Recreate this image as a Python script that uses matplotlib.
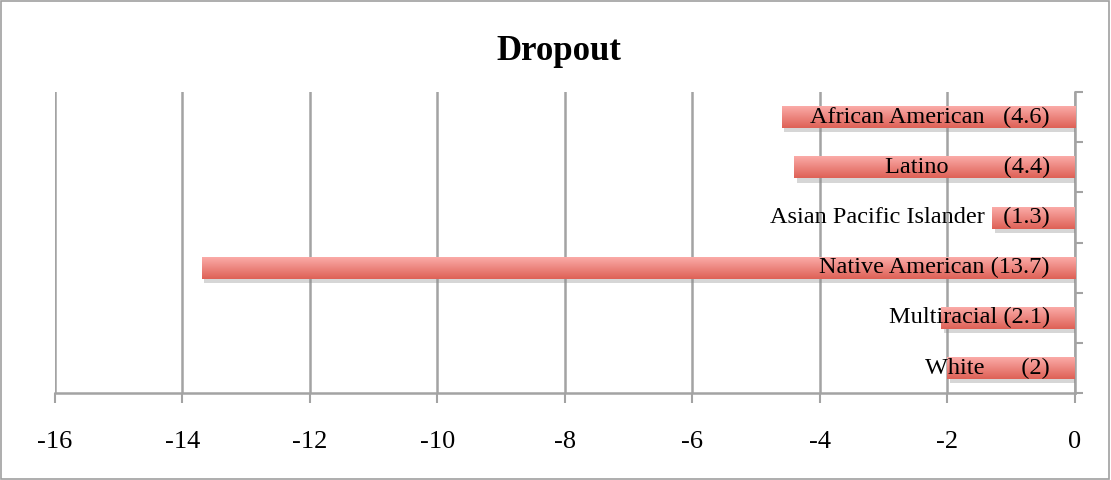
import matplotlib
matplotlib.use("Agg")
import matplotlib.pyplot as plt
import matplotlib.patheffects as pe
from matplotlib.patches import Rectangle
from matplotlib.ticker import FixedLocator
import numpy as np

# data
groups = ['African American', 'Latino', 'Asian Pacific Islander',
          'Native American', 'Multiracial', 'White']
dropout = [-4.6, -4.4, -1.3, -13.7, -2.1, -2.0]
bar_labels = ['African American   (4.6)', 'Latino         (4.4)',
              'Asian Pacific Islander   (1.3)', 'Native American (13.7)',
              'Multiracial (2.1)', 'White      (2)']
xticks = [-16, -14, -12, -10, -8, -6, -4, -2, 0]

plt.rcParams['font.family'] = ['Liberation Serif', 'DejaVu Serif']

fig = plt.figure(figsize=(11.11, 4.8), dpi=100)
# outer frame
fig.patches.append(Rectangle((0.001, 0.002), 0.997, 0.995, transform=fig.transFigure,
                             fill=False, edgecolor='#a0a0a0', linewidth=1.2))
ax = fig.add_axes([0.0495, 0.181, 0.918, 0.627])

ypos = np.arange(len(groups))
grey = '#a3a3a3'

bars = ax.barh(ypos, dropout, height=0.44, color='#ec7b73', zorder=3,
               path_effects=[pe.SimplePatchShadow(offset=(2, -3), shadow_rgbFace='#8a8a8a', alpha=0.35),
                             pe.Normal()])

# vertical gradient on each bar
grad = np.linspace(0, 1, 64).reshape(-1, 1)
cmap = matplotlib.colors.LinearSegmentedColormap.from_list('g', ['#fcaeab', '#de6156'])
for b in bars:
    x0, y0 = b.get_x(), b.get_y()
    w, h = b.get_width(), b.get_height()
    im = ax.imshow(grad, cmap=cmap, aspect='auto', zorder=4,
                   extent=[x0, x0 + w, y0 + h, y0], interpolation='bicubic')
    im.set_clip_path(b)

for y, lab in zip(ypos, bar_labels):
    ax.annotate(lab, xy=(0, y), xytext=(-18, 0), textcoords='offset points',
                ha='right', va='center', fontsize=17.5, zorder=5)

ax.set_xlim(-16, 0)
ax.set_ylim(len(groups) - 0.5, -0.5)
ax.set_xticks(xticks)
ax.set_xticklabels([str(t) for t in xticks], fontsize=19)
ax.tick_params(axis='x', length=7, width=1.5, color=grey, pad=20)
ax.grid(axis='x', color=grey, linewidth=1.8, zorder=0)
ax.set_axisbelow(True)

ax.yaxis.tick_right()
ax.set_yticks([])
ax.yaxis.set_minor_locator(FixedLocator(np.arange(-0.5, len(groups), 1.0)))
ax.tick_params(axis='y', which='minor', length=6, width=1.5, color=grey, right=True, left=False)

for s in ['top', 'left']:
    ax.spines[s].set_visible(False)
for s in ['bottom', 'right']:
    ax.spines[s].set_color(grey)
    ax.spines[s].set_linewidth(1.8)

fig.text(0.503, 0.893, 'Dropout', fontsize=25, fontweight='bold', ha='center', va='center')

fig.savefig('out.png', dpi=100)
